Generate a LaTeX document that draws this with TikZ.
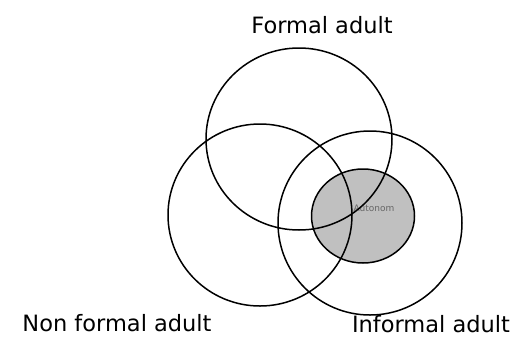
\documentclass[tikz,border=0pt]{standalone}
\usepackage{fontspec}
\setmainfont{DejaVu Sans}
\usetikzlibrary{shapes.geometric}
\begin{document}
\begin{tikzpicture}[x=1pt,y=-1pt,
  ring/.style={draw=black,line width=1.5pt,ellipse,inner sep=0pt},
  lbl/.style={font=\fontsize{22.5}{26}\selectfont,anchor=base,inner sep=0pt}]
\useasboundingbox[fill=white] (0,0) rectangle (514,338);
\node[ring,fill={rgb,255:red,192;green,192;blue,192},minimum width=103pt,minimum height=94pt] (auto) at (363,216) {};
\node[font=\fontsize{9}{10}\selectfont,text=black!60,inner sep=0pt] (autotxt) at (374,208) {Autonom};
\node[ring,minimum width=186pt,minimum height=182pt] (formal) at (299,139) {};
\node[ring,minimum width=184pt,minimum height=182pt] (nonformal) at (260,215) {};
\node[ring,minimum width=184pt,minimum height=184pt] (informal) at (370,223) {};
\node[lbl] (lf) at (322,33) {Formal adult};
\node[lbl] (ln) at (117,331) {Non formal adult};
\node[lbl] (li) at (431,332) {Informal adult};
\end{tikzpicture}
\end{document}
